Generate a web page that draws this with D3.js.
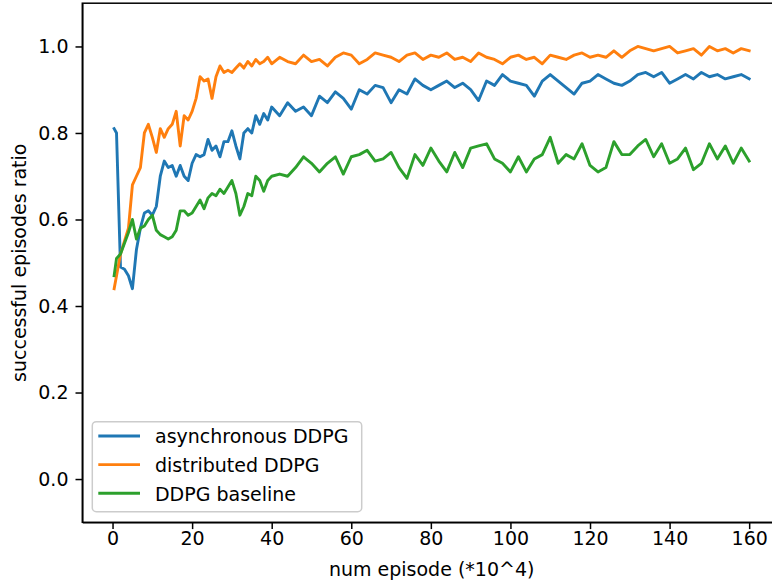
<!DOCTYPE html>
<html>
<head>
<meta charset="utf-8">
<script src="https://cdn.jsdelivr.net/npm/d3@7"></script>
<style>
    body { margin: 0; background: #fff; }
    text { font-family: "DejaVu Sans", sans-serif; fill: #000; }
</style>
</head>
<body>
<div id="chart"></div>
<script>
// episodes (*10^4)
var episodes = [0.4, 1, 2, 3, 4, 5, 6, 7, 8, 9, 10, 11, 12, 13, 14, 15, 16, 17, 18, 19, 20,
    21, 22, 23, 24, 25, 26, 27, 28, 29, 30, 31, 32, 33, 34, 35, 36, 37, 38, 39, 40,
    42, 44, 46, 48, 50, 52, 54, 56, 58, 60, 62, 64, 66, 68, 70, 72, 74, 76, 78, 80,
    82, 84, 86, 88, 90, 92, 94, 96, 98, 100, 102, 104, 106, 108, 110, 112, 114, 116, 118, 120,
    122, 124, 126, 128, 130, 132, 134, 136, 138, 140, 142, 144, 146, 148, 150, 152, 154, 156, 158, 160];

var asyncDDPG = [0.81, 0.80, 0.49, 0.485, 0.47, 0.44, 0.53, 0.58, 0.615, 0.62, 0.61,
    0.63, 0.70, 0.735, 0.72, 0.725, 0.70, 0.725, 0.70, 0.69, 0.73,
    0.75, 0.745, 0.75, 0.785, 0.76, 0.77, 0.745, 0.78, 0.78, 0.805,
    0.77, 0.74, 0.80, 0.81, 0.80, 0.84, 0.82, 0.845, 0.83, 0.86,
    0.84, 0.87, 0.85, 0.86, 0.84, 0.885, 0.87, 0.895, 0.88, 0.855,
    0.90, 0.89, 0.91, 0.905, 0.87, 0.90, 0.89, 0.925, 0.91, 0.90,
    0.91, 0.92, 0.905, 0.915, 0.90, 0.875, 0.92, 0.91, 0.935, 0.92,
    0.915, 0.91, 0.885, 0.92, 0.935, 0.92, 0.905, 0.89, 0.915, 0.92,
    0.935, 0.925, 0.915, 0.91, 0.92, 0.935, 0.94, 0.93, 0.94, 0.915,
    0.925, 0.935, 0.925, 0.94, 0.93, 0.935, 0.925, 0.93, 0.935, 0.925];

var distDDPG = [0.44, 0.47, 0.52, 0.55, 0.58, 0.68, 0.70, 0.72, 0.80, 0.82, 0.79,
    0.755, 0.81, 0.79, 0.81, 0.82, 0.85, 0.77, 0.84, 0.83, 0.85,
    0.88, 0.93, 0.92, 0.925, 0.88, 0.93, 0.955, 0.94, 0.945, 0.94,
    0.95, 0.96, 0.95, 0.965, 0.955, 0.97, 0.96, 0.965, 0.975, 0.96,
    0.975, 0.965, 0.96, 0.98, 0.965, 0.97, 0.955, 0.975, 0.985, 0.98,
    0.96, 0.97, 0.985, 0.98, 0.975, 0.965, 0.98, 0.985, 0.97, 0.98,
    0.975, 0.985, 0.97, 0.975, 0.965, 0.985, 0.975, 0.97, 0.96, 0.975,
    0.98, 0.97, 0.975, 0.96, 0.98, 0.975, 0.97, 0.98, 0.985, 0.975,
    0.98, 0.975, 0.99, 0.975, 0.99, 1.0, 0.995, 0.99, 0.995, 1.0,
    0.985, 0.99, 0.995, 0.98, 1.0, 0.99, 0.995, 0.985, 0.995, 0.99];

var baseDDPG = [0.47, 0.51, 0.52, 0.545, 0.57, 0.60, 0.555, 0.58, 0.585, 0.60, 0.61,
    0.575, 0.565, 0.56, 0.555, 0.56, 0.575, 0.62, 0.62, 0.61, 0.615,
    0.63, 0.645, 0.625, 0.65, 0.66, 0.655, 0.67, 0.66, 0.675, 0.69,
    0.66, 0.61, 0.63, 0.66, 0.655, 0.70, 0.69, 0.665, 0.69, 0.70,
    0.705, 0.70, 0.72, 0.745, 0.73, 0.71, 0.73, 0.745, 0.705, 0.745,
    0.75, 0.76, 0.735, 0.74, 0.755, 0.72, 0.695, 0.75, 0.725, 0.765,
    0.735, 0.71, 0.755, 0.72, 0.765, 0.77, 0.775, 0.74, 0.73, 0.71,
    0.745, 0.71, 0.74, 0.75, 0.79, 0.73, 0.75, 0.74, 0.775, 0.725,
    0.71, 0.72, 0.78, 0.75, 0.75, 0.77, 0.785, 0.745, 0.775, 0.73,
    0.74, 0.765, 0.715, 0.73, 0.775, 0.74, 0.77, 0.73, 0.765, 0.735];

var seriesNames = ["asynchronous DDPG", "distributed DDPG", "DDPG baseline"];
var seriesColors = ["#1f77b4", "#ff7f0e", "#2ca02c"];
var xTicks = [0, 20, 40, 60, 80, 100, 120, 140, 160];
var yTicks = [0.0, 0.2, 0.4, 0.6, 0.8, 1.0];

var width = 772, height = 585;
var plot_left = 82.3, plot_right = 781, plot_top = 3.2, plot_bottom = 522.3;
var fontSize = 19;

var svg = d3.select("#chart")
    .append("svg")
    .attr("width", width)
    .attr("height", height);

var xScale = d3.scaleLinear().domain([-7.6, 168]).range([plot_left, plot_right]);
var yScale = d3.scaleLinear().domain([-0.1, 1.1]).range([plot_bottom, plot_top]);

// lines
var allSeries = [asyncDDPG, distDDPG, baseDDPG];
var line = d3.line()
    .x(function (d) { return xScale(d[0]); })
    .y(function (d) { return yScale(d[1]); });

allSeries.forEach(function (vals, i) {
    svg.append("path")
        .datum(episodes.map(function (e, j) { return [e, vals[j]]; }))
        .attr("d", line)
        .attr("fill", "none")
        .attr("stroke", seriesColors[i])
        .attr("stroke-width", 2.9)
        .attr("stroke-linejoin", "round")
        .attr("stroke-linecap", "square");
});

// axes
var xAxis = d3.axisBottom(xScale).tickValues(xTicks).tickSize(6.8).tickSizeOuter(0).tickPadding(2.6);
var yAxis = d3.axisLeft(yScale).tickValues(yTicks).tickFormat(d3.format(".1f")).tickSize(6.8).tickSizeOuter(0).tickPadding(7);

var gx = svg.append("g")
    .attr("transform", `translate(0, ${plot_bottom})`)
    .call(xAxis);
var gy = svg.append("g")
    .attr("transform", `translate(${plot_left}, 0)`)
    .call(yAxis);

[gx, gy].forEach(function (g) {
    g.selectAll("text").style("font-size", fontSize + "px").style("font-family", "DejaVu Sans");
    g.selectAll("line").attr("stroke", "#000").attr("stroke-width", 1.5);
    g.select(".domain").attr("stroke", "#000").attr("stroke-width", 1.5);
});

// top / right spines
svg.append("rect")
    .attr("x", plot_left)
    .attr("y", plot_top)
    .attr("width", plot_right - plot_left)
    .attr("height", plot_bottom - plot_top)
    .attr("fill", "none")
    .attr("stroke", "#000")
    .attr("stroke-width", 1.5);

// axis labels
svg.append("text")
    .attr("x", (plot_left + plot_right) / 2)
    .attr("y", 576)
    .attr("text-anchor", "middle")
    .style("font-size", fontSize + "px")
    .text("num episode (*10^4)");

svg.append("text")
    .attr("transform", `translate(25.5, ${(plot_top + plot_bottom) / 2})rotate(-90)`)
    .attr("text-anchor", "middle")
    .style("font-size", fontSize + "px")
    .text("successful episodes ratio");

// legend
var legend = svg.append("g").attr("transform", "translate(92.3, 421.7)");
legend.append("rect")
    .attr("width", 269.4)
    .attr("height", 90)
    .attr("rx", 4)
    .attr("fill", "#fff")
    .attr("fill-opacity", 0.8)
    .attr("stroke", "#cccccc")
    .attr("stroke-width", 1.5);

seriesNames.forEach(function (name, i) {
    var rowY = 14.3 + i * 28.6;
    legend.append("line")
        .attr("x1", 6).attr("x2", 47.7)
        .attr("y1", rowY).attr("y2", rowY)
        .attr("stroke", seriesColors[i])
        .attr("stroke-width", 2.9);
    legend.append("text")
        .attr("x", 62.7)
        .attr("y", rowY + 7.5)
        .style("font-size", fontSize + "px")
        .text(name);
});
</script>
</body>
</html>
